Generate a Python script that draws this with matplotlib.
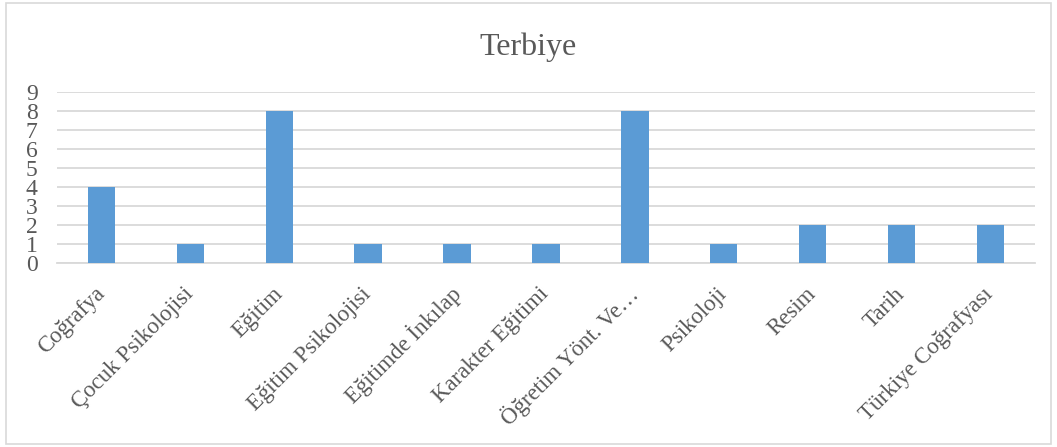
import matplotlib.pyplot as plt
import numpy as np
from matplotlib.patches import Rectangle

# --- datos ---
dersler = ['Coğrafya', 'Çocuk Psikolojisi', 'Eğitim', 'Eğitim Psikolojisi',
           'Eğitimde İnkılap', 'Karakter Eğitimi', 'Öğretim Yönt. Ve…',
           'Psikoloji', 'Resim', 'Tarih', 'Türkiye Coğrafyası']
sayilar = [4, 1, 8, 1, 1, 1, 8, 1, 2, 2, 2]

plt.rcParams['font.family'] = ['Liberation Serif', 'DejaVu Serif']

fig = plt.figure(figsize=(10.57, 4.47), dpi=100)
ax = fig.add_axes([0.054, 0.4116, 0.925, 0.3826])

x = np.arange(len(dersler))
ax.bar(x, sayilar, width=0.31, color='#5B9BD5', zorder=3)

ax.set_xlim(-0.5, len(dersler) - 0.5)
ax.set_ylim(0, 9)
ax.set_yticks(range(10))
ax.tick_params(axis='y', length=0, labelsize=17, colors='#595959', pad=14)
ax.tick_params(axis='x', length=0, labelsize=16.5, colors='#595959', pad=20)
ax.set_xticks(x)
ax.set_xticklabels(dersler, rotation=45, ha='right', va='center', rotation_mode='anchor')

ax.grid(axis='y', color='#D9D9D9', linewidth=1.3, zorder=0)
for s in ['top', 'right', 'left']:
    ax.spines[s].set_visible(False)
ax.spines['bottom'].set_color('#D9D9D9')
ax.spines['bottom'].set_linewidth(1.3)

fig.text(0.5, 0.895, 'Terbiye', ha='center', va='center', fontsize=23, color='#595959')

# kenarlık
fig.patches.append(Rectangle((0.006, 0.006), 0.988, 0.988, transform=fig.transFigure,
                             fill=False, edgecolor='#D9D9D9', linewidth=1.2))

fig.savefig('out.png', dpi=100)
